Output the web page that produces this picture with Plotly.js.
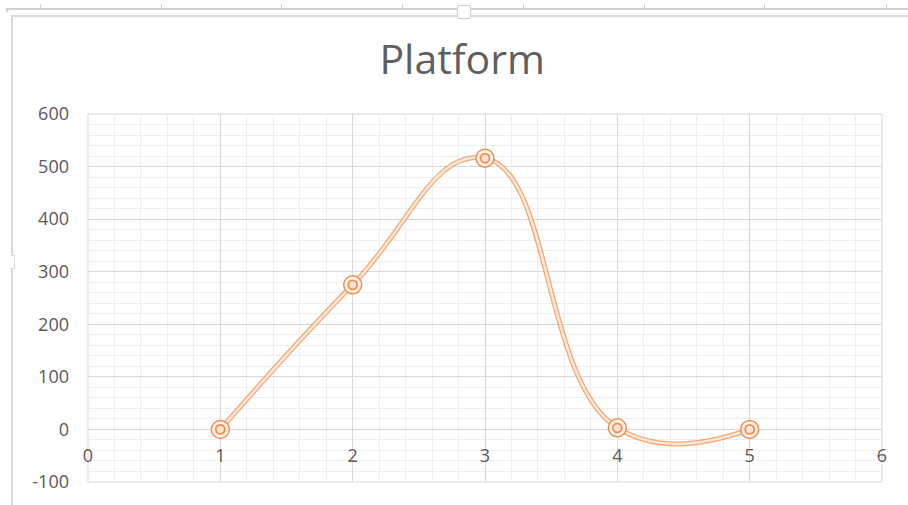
<!DOCTYPE html>
<html>
<head>
<meta charset="utf-8">
<script src="https://cdn.plot.ly/plotly-3.0.1.min.js"></script>
<style>
  html, body { margin: 0; padding: 0; background: #ffffff; }
  #wrap { position: relative; width: 908px; height: 505px; overflow: hidden; }
  #chart { position: absolute; left: 0; top: 0; width: 908px; height: 505px; }
  .frame { position: absolute; pointer-events: none; z-index: 5; }
</style>
</head>
<body>
<div id="wrap">
  <div id="chart"></div>
  <!-- selection frame around the chart object -->
  <div class="frame" style="left:8px; top:8px; width:900px; height:0; border-top:2px solid #d2d2d2;"></div>
  <div class="frame" style="left:6px; top:8px; width:2px; height:4px; background:#d2d2d2;"></div>
  <div class="frame" style="left:12px; top:15px; width:896px; height:0; border-top:2px solid #d9d9d9;"></div>
  <div class="frame" style="left:11px; top:15px; width:0; height:240px; border-left:2px solid #d9d9d9;"></div>
  <div class="frame" style="left:11px; top:255px; width:4px; height:0; border-top:1px solid #d9d9d9;"></div>
  <div class="frame" style="left:14px; top:255px; width:0; height:13px; border-left:1px solid #d9d9d9;"></div>
  <div class="frame" style="left:11px; top:268px; width:4px; height:0; border-top:1px solid #d9d9d9;"></div>
  <div class="frame" style="left:11px; top:268px; width:0; height:237px; border-left:2px solid #d9d9d9;"></div>
  <div class="frame" style="left:457px; top:5px; width:12px; height:12px; border:1px solid #cfcfcf; border-radius:2px; background:#ffffff;"></div>
  <div id="ruler"></div>
</div>
<script>
// Series plotted on the chart
const xValues = [1, 2, 3, 4, 5];
const yValues = [0, 275, 516, 3, 0];

// Axis tick labels
const xTickValues = [0, 1, 2, 3, 4, 5, 6];
const xTickLabels = ['0', '1', '2', '3', '4', '5', '6'];
const yTickValues = [-100, 0, 100, 200, 300, 400, 500, 600];
const yTickLabels = ['-100', '0', '100', '200', '300', '400', '500', '600'];

const chartTitle = 'Platform';

// small ruler ticks along the top frame line
const rulerX = [40, 161, 281, 402, 523, 644, 764, 886];
const ruler = document.getElementById('ruler');
rulerX.forEach(function (x) {
  const d = document.createElement('div');
  d.className = 'frame';
  d.style.cssText = 'left:' + x + 'px; top:4px; width:1px; height:5px; background:#d2d2d2;';
  ruler.appendChild(d);
});

const accent = 'rgba(237,125,49,0.85)';
const pale = '#fde8da';
const textColor = '#595959';
const fontFamily = '"Open Sans", "Noto Sans", "DejaVu Sans", sans-serif';

const traces = [
  // outer stroke of the double line
  {
    x: xValues, y: yValues, type: 'scatter', mode: 'lines',
    line: { shape: 'spline', smoothing: 1.3, color: 'rgba(237,125,49,0.65)', width: 5 },
    hoverinfo: 'skip', showlegend: false
  },
  // inner light band of the double line
  {
    x: xValues, y: yValues, type: 'scatter', mode: 'lines',
    line: { shape: 'spline', smoothing: 1.3, color: pale, width: 2.4 },
    hoverinfo: 'skip', showlegend: false
  },
  // outer marker ring
  {
    x: xValues, y: yValues, type: 'scatter', mode: 'markers',
    marker: { symbol: 'circle', size: 18, color: '#fff3eb', line: { color: accent, width: 1.5 } },
    hoverinfo: 'skip', showlegend: false
  },
  // inner marker ring
  {
    x: xValues, y: yValues, type: 'scatter', mode: 'markers',
    marker: { symbol: 'circle', size: 9, color: '#fbe3d3', line: { color: accent, width: 1.8 } },
    hoverinfo: 'skip', showlegend: false
  }
];

const layout = {
  width: 908,
  height: 505,
  margin: { l: 88, r: 26, t: 114, b: 23, pad: 0 },
  paper_bgcolor: 'rgba(0,0,0,0)',
  plot_bgcolor: '#ffffff',
  font: { family: fontFamily, color: textColor },
  showlegend: false,
  hovermode: false,
  title: {
    text: chartTitle,
    font: { family: fontFamily, size: 41, color: '#5f5f5f' },
    xref: 'container', x: 0.509, xanchor: 'center',
    yref: 'container', y: 0.881, yanchor: 'middle'
  },
  xaxis: {
    range: [0, 6],
    tickmode: 'array', tickvals: xTickValues, ticktext: xTickLabels,
    showgrid: true, gridcolor: '#d9d9d9', gridwidth: 1,
    minor: { dtick: 0.2, tick0: 0, showgrid: true, gridcolor: '#eeeeee', gridwidth: 1 },
    zeroline: false, showline: false, ticks: '',
    anchor: 'free', position: 1 / 7,
    ticklabelstandoff: 14,
    tickfont: { family: fontFamily, size: 18, color: textColor },
    fixedrange: true
  },
  yaxis: {
    range: [-100, 600],
    tickmode: 'array', tickvals: yTickValues, ticktext: yTickLabels,
    showgrid: true, gridcolor: '#d9d9d9', gridwidth: 1,
    minor: { dtick: 20, tick0: 0, showgrid: true, gridcolor: '#eeeeee', gridwidth: 1 },
    zeroline: true, zerolinecolor: '#d9d9d9', zerolinewidth: 1,
    showline: false, ticks: '',
    ticklabelstandoff: 18,
    tickfont: { family: fontFamily, size: 18, color: textColor },
    fixedrange: true
  },
  shapes: [
    {
      type: 'rect', xref: 'paper', yref: 'paper', x0: 0, x1: 1, y0: 0, y1: 1,
      line: { color: '#d9d9d9', width: 1 }, layer: 'below'
    }
  ]
};

Plotly.newPlot('chart', traces, layout, { displayModeBar: false, staticPlot: true });
</script>
</body>
</html>
